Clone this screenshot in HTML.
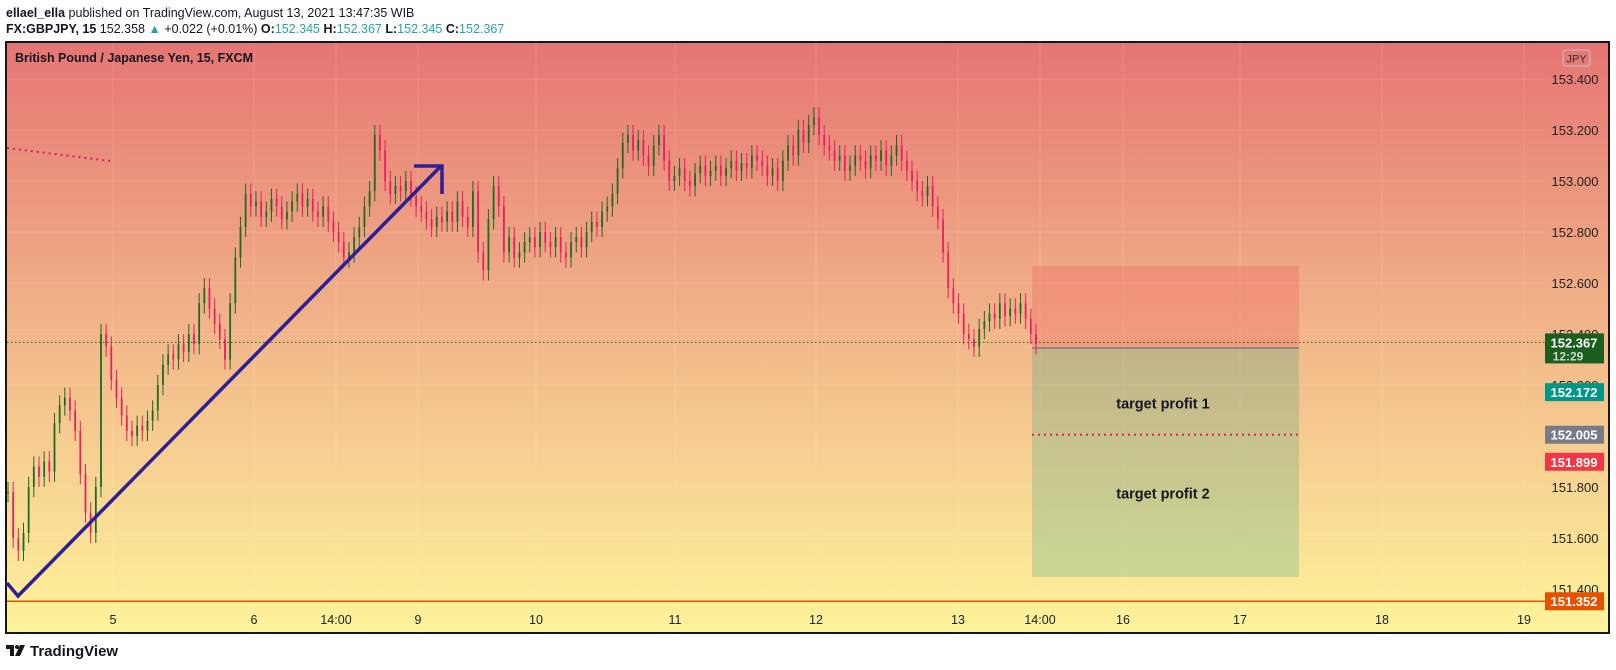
<!DOCTYPE html>
<html><head><meta charset="utf-8"><style>
body{margin:0;width:1616px;height:670px;background:#fff;overflow:hidden;font-family:"Liberation Sans",sans-serif}
svg{position:absolute;left:0;top:0}
</style></head><body>
<svg id="c" width="1616" height="670">
<defs><linearGradient id="bg" x1="0" y1="0" x2="0" y2="1">
<stop offset="0" stop-color="#e67573"/><stop offset="0.5" stop-color="#f2b78a"/><stop offset="1" stop-color="#fef39b"/></linearGradient></defs>
<text x="6" y="17" font-size="12.5" fill="#131722"><tspan font-weight="bold">ellael_ella</tspan> published on TradingView.com, August 13, 2021 13:47:35 WIB</text>
<text x="6" y="33" font-size="12.5" fill="#131722"><tspan font-weight="bold">FX:GBPJPY, 15</tspan> 152.358 <tspan fill="#26a69a">▲</tspan> +0.022 (+0.01%) <tspan font-weight="bold">O:</tspan><tspan fill="#26a69a">152.345</tspan> <tspan font-weight="bold">H:</tspan><tspan fill="#26a69a">152.367</tspan> <tspan font-weight="bold">L:</tspan><tspan fill="#26a69a">152.345</tspan> <tspan font-weight="bold">C:</tspan><tspan fill="#26a69a">152.367</tspan></text>
<rect x="6" y="42" width="1603" height="591" fill="url(#bg)" stroke="#131722" stroke-width="2"/>
<g id="grid"></g>
<g id="pos"></g>
<g id="candles"></g>
<g id="draw"></g>
<g id="axis"></g>
<text x="15" y="62" font-size="12.5" font-weight="bold" fill="#131722">British Pound / Japanese Yen, 15, FXCM</text>
<rect x="1563" y="50" width="27" height="16" rx="3" fill="none" stroke="#c8c0d0"/>
<text x="1576.5" y="62.5" font-size="11" text-anchor="middle" fill="#333">JPY</text>
<g>
<rect x="6" y="645" width="8" height="4" fill="#131722"/><rect x="10" y="645" width="4" height="11" fill="#131722"/><circle cx="17" cy="647" r="2" fill="#131722"/><polygon points="20,645 25,645 20,656 15,656" fill="#131722"/>
<text x="30" y="656" font-size="15" font-weight="bold" fill="#131722">TradingView</text></g>
</svg>
<script>
const closes=[151.78,151.60,151.55,151.62,151.80,151.88,151.84,151.90,151.86,152.05,152.12,152.15,152.10,152.02,151.85,151.70,151.62,151.80,152.40,152.35,152.22,152.15,152.08,152.02,152.00,152.04,152.02,152.06,152.10,152.20,152.28,152.32,152.30,152.36,152.33,152.40,152.36,152.52,152.58,152.50,152.44,152.38,152.30,152.52,152.70,152.82,152.95,152.90,152.92,152.86,152.88,152.93,152.90,152.85,152.88,152.92,152.95,152.90,152.93,152.88,152.86,152.90,152.84,152.80,152.76,152.70,152.72,152.78,152.82,152.90,152.96,153.18,153.12,153.00,152.95,152.98,152.96,153.00,152.94,152.90,152.88,152.85,152.82,152.86,152.84,152.88,152.84,152.92,152.86,152.82,152.96,152.72,152.65,152.85,152.98,152.90,152.72,152.78,152.70,152.72,152.76,152.78,152.74,152.80,152.76,152.74,152.78,152.72,152.70,152.76,152.78,152.74,152.80,152.84,152.82,152.88,152.90,152.95,153.05,153.15,153.18,153.12,153.16,153.10,153.06,153.14,153.18,153.08,153.00,153.02,153.05,153.00,152.98,153.03,153.06,153.02,153.04,153.06,153.02,153.05,153.08,153.04,153.07,153.05,153.10,153.08,153.06,153.02,153.05,153.00,153.08,153.14,153.10,153.20,153.15,153.22,153.25,153.18,153.14,153.12,153.08,153.10,153.04,153.06,153.10,153.08,153.05,153.10,153.08,153.12,153.06,153.10,153.14,153.08,153.04,153.00,152.96,152.94,152.98,152.90,152.85,152.72,152.58,152.52,152.48,152.40,152.38,152.35,152.42,152.45,152.48,152.46,152.52,152.47,152.50,152.48,152.52,152.46,152.40,152.36];
const priceTicks=["153.400","153.200","153.000","152.800","152.600","152.400","152.200","151.800","151.600","151.400"];
const timeLabels=["5","6","14:00","9","10","11","12","13","14:00","16","17","18","19"];
const timeX=[113,254,336,418,536,675,816,958,1040,1123,1240,1382,1524];
const entry=152.345, stopP=152.667, tp1=152.005, tp2=151.447, lastP=152.367, lowP=151.352;
const badges=[["152.172",152.172,"#009688"],["152.005",152.005,"#787b86"],["151.899",151.899,"#f23645"],["151.352",151.352,"#e65100"]];
const NS="http://www.w3.org/2000/svg";
function y(p){return 487+(151.8-p)*255;}
function x(i){return 8+i*(1028/(closes.length-1));}
function mk(t,a,parent){const e=document.createElementNS(NS,t);for(const k in a)e.setAttribute(k,a[k]);document.getElementById(parent).appendChild(e);return e;}
timeX.forEach(tx=>{const l=mk('line',{x1:tx,x2:tx,y1:43,y2:632,stroke:'#ffffff',"stroke-opacity":0.12},'grid');

});
priceTicks.forEach(t=>{const yy=y(+t);const l=mk('line',{x1:7,x2:1545,y1:yy,y2:yy,stroke:'#ffffff',"stroke-opacity":0.12},'grid');


const tt=mk('text',{x:1575,y:yy+5,"font-size":13,"text-anchor":"middle",fill:'#222'},'axis');tt.textContent=t;

});
timeLabels.forEach((t,i)=>{const tt=mk('text',{x:timeX[i],y:624,"font-size":12.5,"text-anchor":"middle",fill:'#222'},'axis');tt.textContent=t;

});
let r=mk('rect',{x:1032,y:y(stopP),width:267,height:y(entry)-y(stopP),fill:'#f2545b',"fill-opacity":0.28},'pos');


r=mk('rect',{x:1032,y:y(entry),width:267,height:y(tp2)-y(entry),fill:'#089981',"fill-opacity":0.2},'pos');


let l=mk('line',{x1:1032,x2:1299,y1:y(entry),y2:y(entry),stroke:'#787b86',"stroke-width":1.5},'pos');


l=mk('line',{x1:1032,x2:1299,y1:y(tp1),y2:y(tp1),stroke:'#e91e63',"stroke-width":2,"stroke-dasharray":"2,4"},'pos');


let t=mk('text',{x:1163,y:y(tp1)-26,"font-size":14.5,"font-weight":"bold",fill:'#131722',"text-anchor":"middle"},'pos');t.textContent='target profit 1';


t=mk('text',{x:1163,y:y(tp1)+64,"font-size":14.5,"font-weight":"bold",fill:'#131722',"text-anchor":"middle"},'pos');t.textContent='target profit 2';


closes.forEach((c,i)=>{const o=i?closes[i-1]:c;const up=c>=o;const col=up?'#1b6b22':'#e91e63';
const hi=Math.max(o,c)+0.04, lo=Math.min(o,c)-0.04;
const w=mk('line',{x1:x(i),x2:x(i),y1:y(hi),y2:y(lo),stroke:col,"stroke-width":1},'candles');


const b=mk('rect',{x:x(i)-0.9,y:y(Math.max(o,c)),width:1.8,height:Math.max(1,Math.abs(y(o)-y(c))),fill:col},'candles');

});
l=mk('line',{x1:7,x2:1545,y1:y(lastP),y2:y(lastP),stroke:'#1b5e20',"stroke-dasharray":"1.5,2.5"},'draw');


l=mk('line',{x1:7,x2:1545,y1:y(lowP),y2:y(lowP),stroke:'#e65100',"stroke-width":1.5},'draw');


l=mk('line',{x1:7,y1:148,x2:110,y2:161,stroke:'#d81b60',"stroke-width":2,"stroke-dasharray":"2,4"},'draw');


l=mk('polyline',{points:"7,583 18,596 440,167",fill:'none',stroke:'#2e1f94',"stroke-width":3.5},'draw');


l=mk('polyline',{points:"414,166 442,166 442,194",fill:'none',stroke:'#2e1f94',"stroke-width":3.5},'draw');


let g=mk('rect',{x:1545,y:y(lastP)-9,width:59,height:30,fill:'#1b5e20'},'axis');


t=mk('text',{x:1574,y:y(lastP)+5,"font-size":13,"font-weight":"bold",fill:'#fff',"text-anchor":"middle"},'axis');t.textContent='152.367';


t=mk('text',{x:1568,y:y(lastP)+18,"font-size":12,"font-weight":"bold",fill:'#cfd8cf',"text-anchor":"middle"},'axis');t.textContent='12:29';


badges.forEach(bd=>{const b=mk('rect',{x:1545,y:y(bd[1])-9,width:59,height:18,fill:bd[2]},'axis');


const tt=mk('text',{x:1574,y:y(bd[1])+5,"font-size":13,"font-weight":"bold",fill:'#fff',"text-anchor":"middle"},'axis');tt.textContent=bd[0];

});
</script>
</body></html>
